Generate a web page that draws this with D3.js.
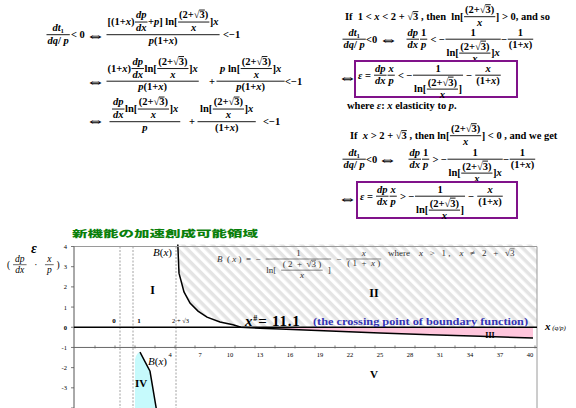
<!DOCTYPE html>
<html lang="en">
<head>
<meta charset="UTF-8">
<title>Boundary function B(x)</title>
<script src="https://d3js.org/d3.v7.min.js"></script>
<style>
  body { margin: 0; padding: 0; background: #fff; }
  svg text { white-space: pre; }
</style>
</head>
<body>
<div id="chart"></div>
<script>
// chart values
const yTickValues = [4, 3, 2, 1, 0, -1, -2, -3, -4];
const yLabelValues = [4, 3, 2, 1, 0, -1, -2, -3];
const xTickValues = [4, 7, 10, 13, 16, 19, 22, 25, 28, 31, 34, 37, 40];
const upperX = [4.78, 4.9, 5.4, 6.0, 6.8, 7.7, 9.0, 10.3, 11.1, 13, 15, 20, 25, 30, 35, 40.3];
const upperY = [4.1, 2.68, 1.75, 1.2, 0.8, 0.5, 0.26, 0.12, 0, -0.05, -0.09, -0.19, -0.29, -0.37, -0.45, -0.53];
const lowerX = [1.0, 2.0, 2.62];
const lowerY = [-1.23, -2.18, -4.0];
const regionIVX = [0.5, 0.5, 0.6, 0.8, 1.0, 2.0, 2.62];
const regionIVY = [-4.0, -1.6, -1.42, -1.28, -1.23, -2.18, -4.0];
const refLineX = [-1, 0.3, 4.6];
const refLabels = ["0", "1", "2 + √3"];
const refLabelX = [-1.6, 0.9, 4.2];
const regionNames = ["I", "II", "III", "IV", "V"];
const regionX = [2.25, 24.4, 36.0, 1.1, 24.4];
const regionY = [1.65, 1.5, -0.53, -2.96, -2.51];
const regionSize = [12, 12, 8, 11, 11];
const xCross = 11.1;

const W = 576, H = 408;
const SERIF = "'Liberation Serif', 'Times New Roman', 'DejaVu Serif', serif";

const svg = d3.select("#chart").append("svg")
  .attr("width", W).attr("height", H)
  .style("display", "block");

// ---------- tiny formula layout (rows, fractions, square roots) ----------
function put(parent, node, st) {
  const g = parent.append("g");
  let b;
  if (typeof node === "string") {
    const t = g.append("text")
      .attr("font-family", SERIF).attr("font-size", st.fs)
      .attr("font-weight", st.fw).attr("fill", st.color);
    node.split(/(\{[^}]*\})/).filter(s => s).forEach(s => {
      const it = s[0] === "{";
      t.append("tspan").attr("font-style", it ? "italic" : null).text(it ? s.slice(1, -1) : s);
    });
    b = { w: t.node().getComputedTextLength(), asc: st.fs * 0.72, desc: st.fs * 0.2 };
  } else if (Array.isArray(node)) {
    let x = 0, asc = 0, desc = 0;
    node.forEach(n => {
      const c = put(g, n, st);
      c.g.attr("transform", `translate(${x},0)`);
      x += c.w;
      asc = Math.max(asc, c.asc);
      desc = Math.max(desc, c.desc);
    });
    b = { w: x, asc, desc };
  } else if (node.f) {
    const num = put(g, node.f[0], st), den = put(g, node.f[1], st);
    const w = Math.max(num.w, den.w) + 2 * (node.pad || st.pad);
    const a = st.axis;
    const ny = -a - st.gap - num.desc, dy = -a + st.gap + den.asc;
    num.g.attr("transform", `translate(${(w - num.w) / 2},${ny})`);
    den.g.attr("transform", `translate(${(w - den.w) / 2},${dy})`);
    g.append("line")
      .attr("x1", 0.5).attr("x2", w - 0.5).attr("y1", -a).attr("y2", -a)
      .attr("stroke", st.color).attr("stroke-width", st.bar);
    b = { w, asc: -ny + num.asc, desc: dy + den.desc };
  } else if (node.r) {
    const t1 = g.append("text").attr("font-family", SERIF).attr("font-size", st.fs)
      .attr("font-weight", st.fw).attr("fill", st.color).text("√");
    const w1 = t1.node().getComputedTextLength();
    const t2 = g.append("text").attr("x", w1).attr("font-family", SERIF).attr("font-size", st.fs)
      .attr("font-weight", st.fw).attr("fill", st.color).text(node.r);
    const w2 = t2.node().getComputedTextLength();
    g.append("line")
      .attr("x1", w1 - 0.3).attr("x2", w1 + w2).attr("y1", -st.fs * 0.8).attr("y2", -st.fs * 0.8)
      .attr("stroke", st.color).attr("stroke-width", st.bar);
    b = { w: w1 + w2, asc: st.fs * 0.84, desc: st.fs * 0.2 };
  }
  b.g = g;
  return b;
}

function formula(x, y, node, st) {
  const b = put(svg, node, st);
  b.g.attr("transform", `translate(${x},${y})`);
  return b;
}

function arrow(x, y) {
  svg.append("text").attr("x", x).attr("y", y)
    .attr("font-family", "'DejaVu Serif', serif").attr("font-size", 9).attr("font-weight", "bold")
    .attr("textLength", 13).attr("lengthAdjust", "spacingAndGlyphs")
    .text("⇔");
}

const big = { fs: 10.5, fw: "bold", color: "#000", axis: 3.3, gap: 1.5, pad: 1.5, bar: 0.9 };

const R3 = { r: "3" };
const F23 = { f: [["(2+", R3, ")"], "{x}"] };
const DPDX = { f: ["{dp}", "{dx}"] };
const DT = { f: ["{dt}₁", "{dq}/ {p}"] };

// ---------- left block ----------
formula(46, 38, DT, big);
formula(71, 38, "< 0", big);
arrow(89, 40);
formula(106, 38, { f: [["[(1+{x})", DPDX, "+{p}] ln[", F23, "]{x}"], "{p}(1+{x})"] }, big);
formula(223, 38, "<−1", big);

arrow(89, 86);
formula(106, 84.5, { f: [["(1+{x})", DPDX, "ln[", F23, "]{x}"], "{p}(1+{x})"] }, big);
formula(209, 84.5, "+", big);
formula(216, 84.5, { f: [["{p} ln[", F23, "]{x}"], "{p}(1+{x})"], pad: 4 }, big);
formula(285, 84.5, "<−1", big);

arrow(89, 125);
formula(109, 125, { f: [[DPDX, "ln[", F23, "]{x}"], "{p}"], pad: 2.5 }, big);
formula(189, 125, "+", big);
formula(197, 125, { f: [["ln[", F23, "]{x}"], "(1+{x})"], pad: 3 }, big);
formula(263, 125, "<−1", big);

// ---------- right block ----------
formula(345, 20, ["If  1 < {x} < 2 + ", R3, " , then  ln[", F23, "] > 0, and so"], big);
formula(342, 42.5, DT, big);
formula(366, 42.5, "<0", big);
arrow(382, 44);
formula(406, 42.5, [DPDX, { f: ["1", "{p}"] }, " < −", { f: ["1", ["ln[", F23, "]{x}"]] }, "−", { f: ["1", "(1+{x})"] }], big);

svg.append("rect").attr("x", 355).attr("y", 61).attr("width", 162).attr("height", 36)
  .attr("fill", "none").attr("stroke", "#80128a").attr("stroke-width", 2);
arrow(341, 82);
formula(358, 78.5, ["{ε} = ", DPDX, { f: ["{x}", "{p}"] }, " < −", { f: ["1", ["ln[", F23, "]"]] }, " − ", { f: ["{x}", "(1+{x})"] }], big);
formula(347, 109, "where {ε}: {x} elasticity to {p}.", big);

formula(350, 139, ["If  {x} > 2 + ", R3, " , then ln[", F23, "] < 0 , and we get"], big);
formula(342, 162.5, DT, big);
formula(366, 162.5, "<0", big);
arrow(381, 164);
formula(408, 162.5, [DPDX, { f: ["1", "{p}"] }, " > −", { f: ["1", ["ln[", F23, "]{x}"]] }, "−", { f: ["1", "(1+{x})"] }], big);

svg.append("rect").attr("x", 357).attr("y", 182).attr("width", 160).attr("height", 36)
  .attr("fill", "none").attr("stroke", "#80128a").attr("stroke-width", 2);
arrow(341, 203);
formula(360, 199.5, ["{ε} = ", DPDX, { f: ["{x}", "{p}"] }, " > −", { f: ["1", ["ln[", F23, "]"]] }, " − ", { f: ["{x}", "(1+{x})"] }], big);

// ---------- chart ----------
const plotLeft = 74, plotRight = 537, plotTop = 246.5, plotBottom = 408;
const x = d3.scaleLinear().domain([-5.6, 40.7]).range([plotLeft, plotRight]);
const y = d3.scaleLinear().domain([-4, 4]).range([plotBottom, plotTop]);

svg.append("text").attr("x", 72).attr("y", 237)
  .attr("font-family", "'Noto Sans CJK JP', sans-serif").attr("font-weight", 900)
  .attr("font-size", 9.5).attr("fill", "#0a800a")
  .attr("textLength", 186).attr("lengthAdjust", "spacingAndGlyphs")
  .text("新機能の加速創成可能領域");

const defs = svg.append("defs");
const pat = defs.append("pattern").attr("id", "hatch")
  .attr("patternUnits", "userSpaceOnUse").attr("width", 7).attr("height", 7)
  .attr("patternTransform", "rotate(45)");
pat.append("rect").attr("width", 7).attr("height", 3.5).attr("fill", "#e4e4e4");
defs.append("clipPath").attr("id", "plotClip").append("rect")
  .attr("x", plotLeft).attr("y", 244).attr("width", plotRight - plotLeft).attr("height", plotBottom - 244);

const plot = svg.append("g").attr("clip-path", "url(#plotClip)");
const pts = (xs, ys) => xs.map((v, i) => [v, ys[i]]);
const line = d3.line().x(d => x(d[0])).y(d => y(d[1]));

// region II: above the boundary, hatched
const upper = pts(upperX, upperY);
const iCross = upperX.indexOf(xCross);
const regionII = [[upperX[0], 4.1], ...upper.slice(0, iCross + 1), [40.7, 0], [40.7, 4.1]];
plot.append("path").attr("d", line(regionII) + "Z").attr("fill", "url(#hatch)");

// region III: between zero line and boundary, pink
const regionIII = [...upper.slice(iCross), [upperX[upperX.length - 1], 0]];
plot.append("path").attr("d", line(regionIII) + "Z").attr("fill", "#ffc6dc");

// region IV: cyan
plot.append("path").attr("d", line(pts(regionIVX, regionIVY)) + "Z").attr("fill", "#c6fafc");

// reference dotted lines
plot.selectAll(".ref").data(refLineX).join("line")
  .attr("x1", d => x(d)).attr("x2", d => x(d)).attr("y1", plotTop).attr("y2", plotBottom)
  .attr("stroke", "#8a8a8a").attr("stroke-width", 0.8).attr("stroke-dasharray", "2,1.5");

// frame
svg.append("line").attr("x1", plotLeft).attr("x2", plotRight).attr("y1", plotTop).attr("y2", plotTop)
  .attr("stroke", "#9a9a9a").attr("stroke-width", 1);
svg.append("line").attr("x1", plotRight).attr("x2", plotRight).attr("y1", plotTop).attr("y2", plotBottom)
  .attr("stroke", "#9a9a9a").attr("stroke-width", 1);
svg.append("line").attr("x1", plotLeft).attr("x2", plotLeft).attr("y1", plotTop).attr("y2", plotBottom)
  .attr("stroke", "#555").attr("stroke-width", 1);

// axis line at -1 with ticks
svg.append("line").attr("x1", plotLeft).attr("x2", plotRight).attr("y1", y(-1)).attr("y2", y(-1))
  .attr("stroke", "#666").attr("stroke-width", 1);
svg.selectAll(".xt").data(d3.range(-3.5, 41, 2)).join("line")
  .attr("x1", d => x(d)).attr("x2", d => x(d)).attr("y1", y(-1) - 2).attr("y2", y(-1) + 1)
  .attr("stroke", "#666").attr("stroke-width", 0.8);
svg.selectAll(".xl").data(xTickValues).join("text")
  .attr("x", d => x(d)).attr("y", y(-1) + 10)
  .attr("text-anchor", "middle").attr("font-family", SERIF).attr("font-size", 6.5)
  .text(d => d);

// y ticks
svg.selectAll(".yt").data(yTickValues).join("line")
  .attr("x1", plotLeft - 3).attr("x2", plotLeft).attr("y1", d => y(d)).attr("y2", d => y(d))
  .attr("stroke", "#555").attr("stroke-width", 0.8);
svg.selectAll(".yl").data(yLabelValues).join("text")
  .attr("x", 67).attr("y", d => y(d) + 2.5)
  .attr("text-anchor", "end").attr("font-family", SERIF).attr("font-size", 6.5)
  .attr("font-weight", d => d === 0 ? "bold" : null)
  .text(d => d);

// zero line
svg.append("line").attr("x1", plotLeft).attr("x2", plotRight).attr("y1", y(0)).attr("y2", y(0))
  .attr("stroke", "#000").attr("stroke-width", 1.5);

// boundary curves
plot.append("path").attr("d", line(upper)).attr("fill", "none")
  .attr("stroke", "#000").attr("stroke-width", 1.5);
plot.append("path").attr("d", line(pts(lowerX, lowerY))).attr("fill", "none")
  .attr("stroke", "#000").attr("stroke-width", 1.5);

// reference labels
svg.selectAll(".rl").data(refLabels).join("text")
  .attr("x", (d, i) => x(refLabelX[i])).attr("y", y(0) - 4)
  .attr("text-anchor", (d, i) => i === 2 ? "start" : "middle")
  .attr("font-family", SERIF).attr("font-size", (d, i) => i === 2 ? 6.5 : 7)
  .attr("font-weight", (d, i) => i === 2 ? null : "bold")
  .text(d => d);

// region labels
svg.selectAll(".reg").data(regionNames).join("text")
  .attr("x", (d, i) => x(regionX[i])).attr("y", (d, i) => y(regionY[i]))
  .attr("text-anchor", "middle").attr("font-family", SERIF).attr("font-weight", "bold")
  .attr("font-size", (d, i) => regionSize[i])
  .text(d => d);

// B(x) labels
const bStyle = { fs: 11, fw: "normal", color: "#000", axis: 2.8, gap: 1.2, pad: 1.5, bar: 0.7 };
formula(153, 256, "{B}({x})", bStyle);
formula(148, 365, "{B}({x})", bStyle);

// formula inside the plot
const sm = { fs: 9, fw: "normal", color: "#333", axis: 2.5, gap: 0.9, pad: 2, bar: 0.6 };
formula(217, 261.5, ["{B}  ( {x} )  =  −  ",
  { f: ["1", ["ln[  ", { f: [["( 2  +  ", R3, " )"], "{x}"] }, "  ]"]], pad: 1 },
  "  −  ", { f: ["{x}", "( 1  +  {x} )"], pad: 1.5 }], sm);
formula(388, 256, ["where    {x}   >   1 ,    {x}   ≠   2   +   ", R3], sm);

// crossing point annotation
const xs = svg.append("text").attr("x", 245).attr("y", 326)
  .attr("font-family", SERIF).attr("font-weight", "bold").attr("font-size", 15)
  .attr("letter-spacing", 0.8);
xs.append("tspan").attr("font-style", "italic").text("x");
xs.append("tspan").attr("font-size", 8).attr("dy", -5).text("#");
xs.append("tspan").attr("dy", 5).text("= " + xCross);
svg.append("text").attr("x", 313).attr("y", 325)
  .attr("font-family", SERIF).attr("font-weight", "bold").attr("font-size", 11)
  .attr("fill", "#3434b4")
  .attr("textLength", 215).attr("lengthAdjust", "spacingAndGlyphs")
  .text("(the crossing point of boundary function)");

// axis titles
const xa = svg.append("text").attr("x", 545).attr("y", 330).attr("font-family", SERIF);
xa.append("tspan").attr("font-style", "italic").attr("font-weight", "bold").attr("font-size", 11).text("x");
xa.append("tspan").attr("font-style", "italic").attr("font-size", 7).text(" (q/p)");

svg.append("text").attr("x", 31).attr("y", 253)
  .attr("font-family", SERIF).attr("font-weight", "bold").attr("font-style", "italic")
  .attr("font-size", 14).text("ε");
const ax = { fs: 9.5, fw: "normal", color: "#000", axis: 2.8, gap: 1.3, pad: 2.5, bar: 0.6 };
formula(7, 267.5, ["( ", { f: ["{dp}", "{dx}"] }, "   ·   ", { f: ["{x}", "{p}"] }, " )"], ax);
</script>
</body>
</html>
